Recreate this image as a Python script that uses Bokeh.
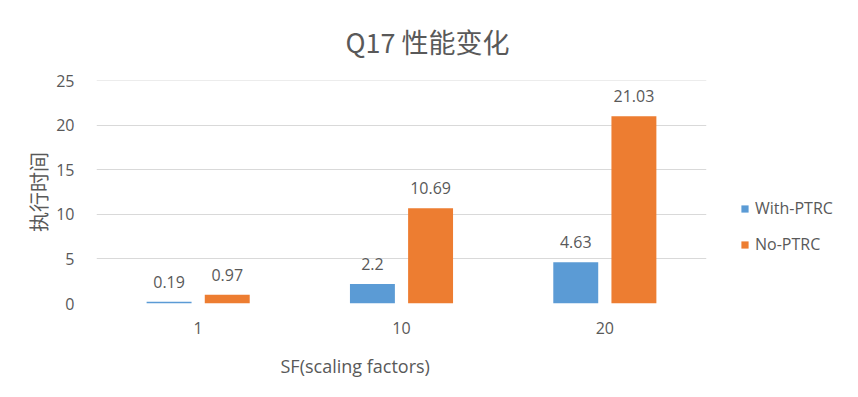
from bokeh.plotting import figure
from bokeh.models import ColumnDataSource, Legend, LegendItem, FixedTicker, Range1d, FactorRange, Title
from bokeh.transform import dodge
from bokeh.core.properties import value
from bokeh.embed import file_html
from bokeh.resources import INLINE

# ---- data ----
sf_factors = ["1", "10", "20"]
with_ptrc = [0.19, 2.2, 4.63]
no_ptrc = [0.97, 10.69, 21.03]
with_text = ["0.19", "2.2", "4.63"]
no_text = ["0.97", "10.69", "21.03"]
y_ticks = [0, 5, 10, 15, 20, 25]
series_names = ["With-PTRC", "No-PTRC"]
title_text = "Q17 性能变化"
x_title = "SF(scaling factors)"
y_title = "执行时间"

BLUE = "#5b9bd5"
ORANGE = "#ed7d31"
TXT = "#595959"
GRID = "#d9d9d9"
LATIN = "'Open Sans', 'Noto Sans CJK SC', sans-serif"
CJK = "'Noto Sans CJK SC', 'Open Sans', sans-serif"

src = ColumnDataSource(dict(sf=sf_factors, w=with_ptrc, n=no_ptrc, wt=with_text, nt=no_text))

p = figure(x_range=FactorRange(*sf_factors, range_padding=0), y_range=Range1d(0, 25.03),
           frame_width=610, frame_height=223, output_backend="svg", toolbar_location=None,
           min_border_left=96, min_border_right=136, min_border_top=80, min_border_bottom=78)
p.outline_line_color = None
p.background_fill_color = "white"
p.border_fill_color = "white"

off = 0.143
bw = 0.221
r1 = p.vbar(x=dodge("sf", -off, range=p.x_range), top="w", width=bw, source=src,
            fill_color=BLUE, line_color=None)
r2 = p.vbar(x=dodge("sf", off, range=p.x_range), top="n", width=bw, source=src,
            fill_color=ORANGE, line_color=None)

for col, dx in (("w", -off), ("n", off)):
    p.text(x=dodge("sf", dx, range=p.x_range), y=col, text=col + "t", source=src,
           text_align="center", text_baseline="alphabetic", y_offset=-20,
           text_font=value(LATIN), text_font_size="16px", text_color=TXT)

# axes
p.yaxis.ticker = FixedTicker(ticks=y_ticks)
p.yaxis.axis_line_color = None
p.yaxis.major_tick_line_color = None
p.yaxis.minor_tick_line_color = None
p.yaxis.major_label_standoff = 16
p.yaxis.major_label_text_font = LATIN
p.yaxis.major_label_text_font_size = "16px"
p.yaxis.major_label_text_color = TXT
p.yaxis.axis_label = y_title
p.yaxis.axis_label_text_font = CJK
p.yaxis.axis_label_text_font_size = "20px"
p.yaxis.axis_label_text_font_style = "normal"
p.yaxis.axis_label_text_color = TXT
p.yaxis.axis_label_standoff = 0

p.xaxis.axis_line_color = None
p.xaxis.major_tick_line_color = None
p.xaxis.minor_tick_line_color = None
p.xaxis.major_label_standoff = 12
p.xaxis.major_label_text_font = LATIN
p.xaxis.major_label_text_font_size = "16px"
p.xaxis.major_label_text_color = TXT

p.xgrid.grid_line_color = None
p.ygrid.grid_line_color = GRID
p.ygrid.grid_line_width = 1

# chart title
p.title.text = title_text
p.title.align = "left"
p.title.offset = 249
p.title.standoff = 39
p.title.text_font = CJK
p.title.text_font_size = "27px"
p.title.text_font_style = "normal"
p.title.text_color = TXT

# x axis title (placed off-centre like the reference)
p.add_layout(Title(text=x_title, align="left", offset=184, standoff=31,
                   text_font=LATIN, text_font_size="18px", text_font_style="normal",
                   text_color=TXT), "below")

legend = Legend(items=[LegendItem(label=series_names[0], renderers=[r1]),
                       LegendItem(label=series_names[1], renderers=[r2])],
                location=(34, 48), orientation="vertical",
                glyph_width=9, glyph_height=9, label_height=20, spacing=14,
                label_standoff=6, padding=0, margin=0,
                border_line_color=None, background_fill_alpha=0,
                label_text_font=LATIN, label_text_font_size="16px", label_text_color=TXT)
p.add_layout(legend, "right")

open("out.html", "w").write(file_html(p, INLINE))
